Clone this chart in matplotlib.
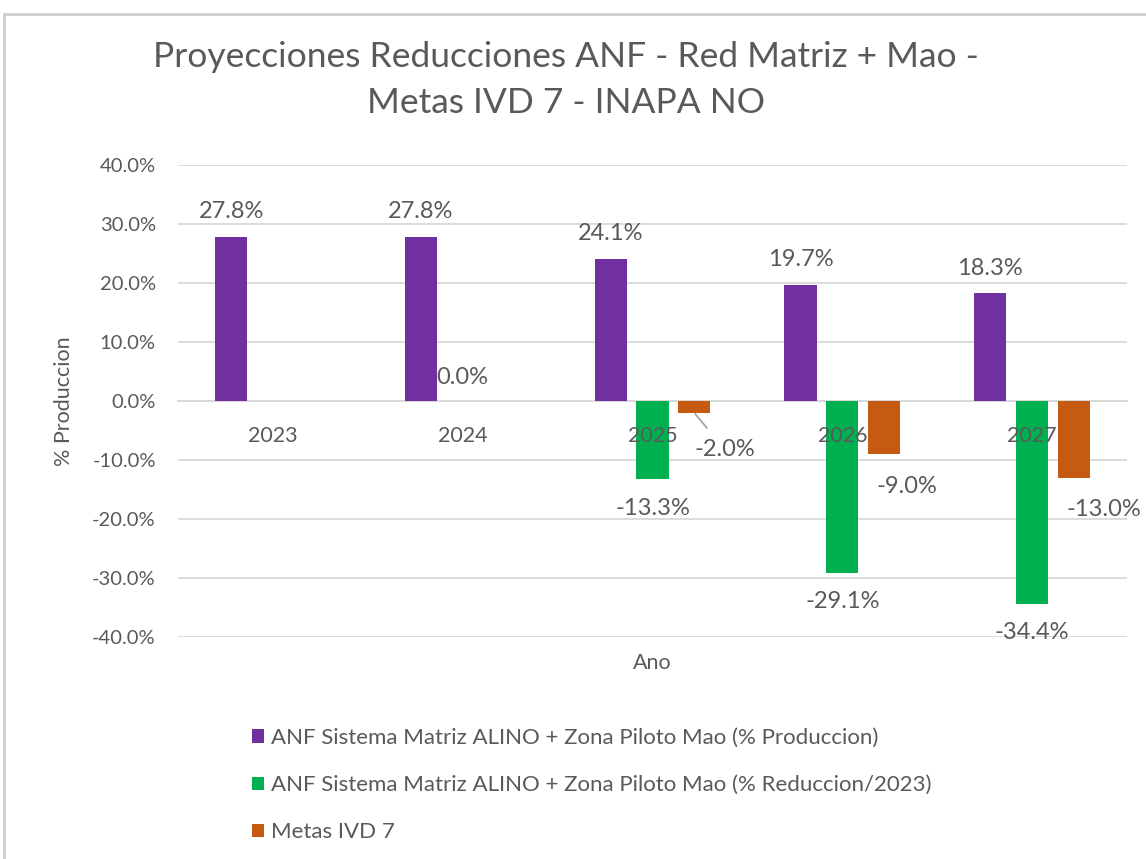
import numpy as np
import matplotlib
matplotlib.use("Agg")
import matplotlib.pyplot as plt
from matplotlib.patches import Rectangle

# ---- data ----
years = ["2023", "2024", "2025", "2026", "2027"]
anf_produccion = [27.8, 27.8, 24.1, 19.7, 18.3]
anf_reduccion = [np.nan, 0.0, -13.3, -29.1, -34.4]
metas_ivd7 = [np.nan, np.nan, -2.0, -9.0, -13.0]
series_names = [
    "ANF Sistema Matriz ALINO + Zona Piloto Mao (% Produccion)",
    "ANF Sistema Matriz ALINO + Zona Piloto Mao (% Reduccion/2023)",
    "Metas IVD 7",
]
yticks = [-40, -30, -20, -10, 0, 10, 20, 30, 40]
title = "Proyecciones Reducciones ANF - Red Matriz + Mao -\nMetas IVD 7 - INAPA NO"

# ---- style ----
FONT = ["Lato", "DejaVu Sans"]
plt.rcParams["font.family"] = FONT
TXT = "#595959"
GRID = "#d9d9d9"
colors = ["#7030A0", "#00B050", "#C55A11"]

fig = plt.figure(figsize=(11.46, 8.59), dpi=100)
W, H = 1146, 859
ax = fig.add_axes([178 / W, 1 - 637 / H, (1127 - 178) / W, (637 - 165) / H])

# chart border
fig.patches.append(Rectangle((4 / W, -0.05), 1.2, 1 - 14 / H + 0.05,
                             transform=fig.transFigure, fill=False,
                             edgecolor="#cfcfcf", linewidth=2))

x = np.arange(len(years))
offsets = [-0.22, 0.0, 0.22]
width = 0.17
all_series = [anf_produccion, anf_reduccion, metas_ivd7]
for vals, off, c, name in zip(all_series, offsets, colors, series_names):
    ax.bar(x + off, vals, width=width, color=c, label=name, zorder=3)

ax.set_xlim(-0.5, len(years) - 0.5)
ax.set_ylim(-40, 40)
ax.set_yticks(yticks)
ax.set_yticklabels([f"{v:.1f}%" for v in yticks], fontsize=14.5, color=TXT)
ax.yaxis.grid(True, color=GRID, linewidth=1.3, zorder=0)
ax.set_axisbelow(True)
for sp in ["top", "right", "left"]:
    ax.spines[sp].set_visible(False)
ax.spines["bottom"].set_position(("data", 0))
ax.spines["bottom"].set_color(GRID)
ax.spines["bottom"].set_linewidth(1.3)
ax.set_xticks(x)
ax.set_xticklabels([])
ax.tick_params(axis="x", length=0)
ax.tick_params(axis="y", length=0, pad=16)

# category labels drawn on top of bars
for i, yr in enumerate(years):
    ax.annotate(yr, (x[i], 0), xytext=(0, -35), textcoords="offset pixels",
                ha="center", va="center", fontsize=15.5, color=TXT, zorder=6)

ax.text(0.5, -0.055, "Ano", transform=ax.transAxes, ha="center", va="center",
        fontsize=15.5, color=TXT)
ax.set_ylabel("% Produccion", fontsize=15.5, color=TXT)
ax.yaxis.set_label_coords(-0.11, 0.5)

# data labels (pixel offsets)
lab_kw = dict(textcoords="offset pixels", ha="center", va="center",
              fontsize=17, color=TXT, annotation_clip=False, zorder=5)
for i, v in enumerate(anf_produccion):
    ax.annotate(f"{v:.1f}%", (x[i] + offsets[0], v), xytext=(0, 25), **lab_kw)
for i, v in enumerate(anf_reduccion):
    if np.isnan(v):
        continue
    dy = 24 if v >= 0 else -29
    ax.annotate(f"{v:.1f}%", (x[i] + offsets[1], v), xytext=(0, dy), **lab_kw)
orange_off = {2: (31, -37), 3: (23, -32), 4: (30, -32)}
for i, v in enumerate(metas_ivd7):
    if np.isnan(v):
        continue
    dx, dy = orange_off[i]
    if i == 2:
        ax.annotate(f"{v:.1f}%", (x[i] + offsets[2], v), xytext=(dx, dy),
                    arrowprops=dict(arrowstyle="-", color="#a6a6a6", lw=1.3,
                                    shrinkA=8, shrinkB=1), **lab_kw)
    else:
        ax.annotate(f"{v:.1f}%", (x[i] + offsets[2], v), xytext=(dx, dy), **lab_kw)

fig.text(0.494, 1 - 80 / H, title, ha="center", va="center", fontsize=25.5,
         color=TXT, linespacing=1.55)

leg = fig.legend(loc="upper left", bbox_to_anchor=(232 / W, 1 - 708 / H),
                 frameon=False, fontsize=16, handlelength=0.55, handleheight=0.55,
                 handletextpad=0.3, labelspacing=1.22, labelcolor=TXT)

fig.savefig("out.png", dpi=100)
